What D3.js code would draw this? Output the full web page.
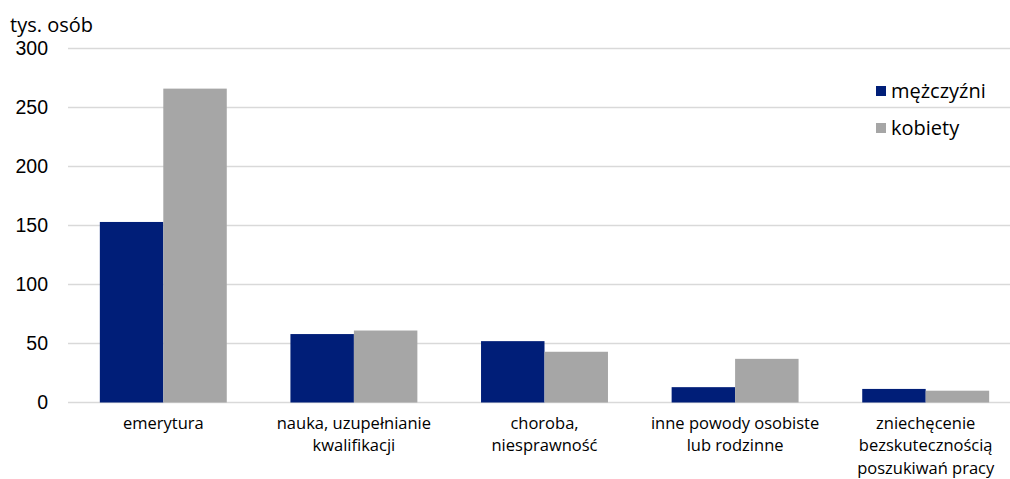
<!DOCTYPE html>
<html>
<head>
<meta charset="utf-8">
<script src="https://cdn.jsdelivr.net/npm/d3@7"></script>
<style>
  body { margin: 0; background: #fff; }
  svg { display: block; font-family: "Open Sans", "Noto Sans", sans-serif; }
</style>
</head>
<body>
<div class="canvas"></div>
<script>
// data
const categories = [
  ['emerytura'],
  ['nauka, uzupełnianie', 'kwalifikacji'],
  ['choroba,', 'niesprawność'],
  ['inne powody osobiste', 'lub rodzinne'],
  ['zniechęcenie', 'bezskutecznością', 'poszukiwań pracy']
];
const seriesNames = ['mężczyźni', 'kobiety'];
const men = [153, 58, 52, 13, 11.5];
const women = [266, 61, 43, 37, 10];
const yTicks = [0, 50, 100, 150, 200, 250, 300];

const colors = ['#001e78', '#a6a6a6'];

// dimensions
const dims = { width: 1010, height: 479 };
const plot = { left: 68, right: 1021, top: 48.5, bottom: 402.5 };

const svg = d3.select('.canvas')
  .append('svg')
  .attr('width', dims.width)
  .attr('height', dims.height);

// scales
const x = d3.scaleBand()
  .domain(d3.range(categories.length))
  .range([plot.left, plot.right])
  .paddingInner(0.334)
  .paddingOuter(0.167);

const xs = d3.scaleBand()
  .domain(seriesNames)
  .range([0, x.bandwidth()]);

const y = d3.scaleLinear()
  .domain([0, 300])
  .range([plot.bottom, plot.top]);

// gridlines
svg.append('g')
  .selectAll('line')
  .data(yTicks)
  .join('line')
    .attr('x1', plot.left)
    .attr('x2', plot.right)
    .attr('y1', d => y(d))
    .attr('y2', d => y(d))
    .attr('stroke', '#d9d9d9')
    .attr('stroke-width', 1.5);

// y axis labels
const yAxis = d3.axisLeft(y)
  .tickValues(yTicks)
  .tickSize(0)
  .tickPadding(0);

svg.append('g')
  .attr('transform', `translate(48, 0)`)
  .call(yAxis)
  .call(g => g.select('.domain').remove())
  .call(g => g.selectAll('text')
    .attr('font-size', 19.5)
    .attr('fill', '#000')
    .attr('font-family', null));

// unit label
svg.append('text')
  .attr('x', 10)
  .attr('y', 32)
  .attr('font-size', 20)
  .attr('fill', '#000')
  .text('tys. osób');

// bars
const table = categories.map((c, i) => ({ i, values: [men[i], women[i]] }));

const groups = svg.append('g')
  .selectAll('g')
  .data(table)
  .join('g')
    .attr('transform', d => `translate(${x(d.i)}, 0)`);

groups.selectAll('rect')
  .data(d => d.values.map((v, k) => ({ name: seriesNames[k], v, k })))
  .join('rect')
    .attr('x', d => xs(d.name))
    .attr('width', xs.bandwidth())
    .attr('y', d => y(d.v))
    .attr('height', d => y(0) - y(d.v))
    .attr('fill', d => colors[d.k]);

// category labels
const labels = svg.append('g')
  .selectAll('text')
  .data(categories)
  .join('text')
    .attr('text-anchor', 'middle')
    .attr('font-size', 16.5)
    .attr('fill', '#000')
    .attr('transform', (d, i) => `translate(${x(i) + x.bandwidth() / 2}, 429)`);

labels.selectAll('tspan')
  .data(d => d)
  .join('tspan')
    .attr('x', 0)
    .attr('dy', (d, i) => i === 0 ? 0 : 22.4)
    .text(d => d);

// legend
const legend = svg.append('g')
  .attr('transform', 'translate(876, 86)');

const items = legend.selectAll('g')
  .data(seriesNames)
  .join('g')
    .attr('transform', (d, i) => `translate(0, ${i * 37})`);

items.append('rect')
  .attr('width', 10)
  .attr('height', 10)
  .attr('fill', (d, i) => colors[i]);

items.append('text')
  .attr('x', 15)
  .attr('y', 5)
  .attr('dy', '0.35em')
  .attr('font-size', 20)
  .attr('fill', '#000')
  .text(d => d);
</script>
</body>
</html>
